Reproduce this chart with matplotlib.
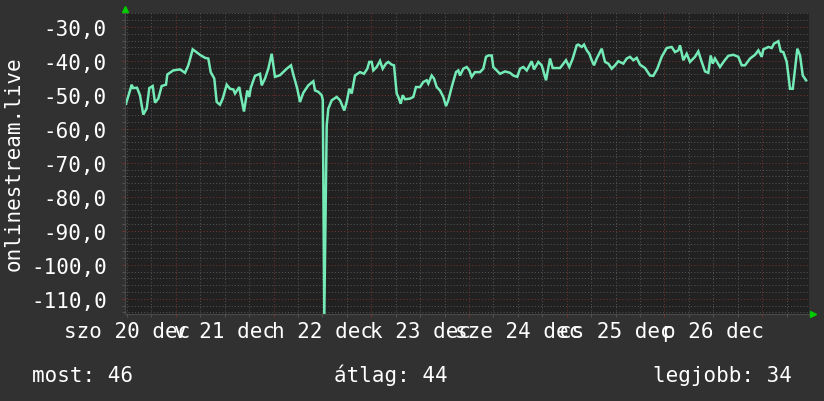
import matplotlib
matplotlib.use("Agg")
import matplotlib.pyplot as plt
from matplotlib.ticker import MultipleLocator, FuncFormatter, NullFormatter
import matplotlib.transforms as mtransforms

# hours relative to midnight of 20 Dec
hours = [-12.25, -10.85, -10.53, -9.55, -8.82, -8.01, -7.17, -6.53, -5.70, -5.13,
         -4.32, -3.49, -2.43, -2.11, -0.64, 1.01, 2.24, 3.05, 4.13, 5.92,
         7.15, 7.96, 8.55, 9.43, 10.02, 10.83, 11.50, 12.48, 13.29, 14.10,
         14.52, 15.57, 15.92, 16.73, 17.54, 18.03, 18.37, 19.43, 20.66, 21.08,
         21.89, 22.70, 23.53, 24.34, 25.57, 27.22, 28.27, 28.84, 29.82, 30.48,
         31.29, 32.52, 33.75, 34.17, 34.98, 35.81, 36.08, 36.45, 37.04, 37.43,
         38.27, 39.50, 40.31, 41.36, 41.95, 42.59, 43.18, 43.99, 45.22, 46.20,
         47.01, 47.50, 48.09, 48.49, 49.32, 50.13, 50.79, 51.60, 52.17, 53.00,
         53.57, 54.23, 54.62, 55.22, 55.71, 56.27, 57.50, 58.31, 58.97, 59.96,
         60.77, 61.60, 62.00, 62.83, 63.40, 64.06, 64.87, 65.68, 66.35, 66.91,
         67.74, 68.80, 69.37, 69.78, 70.59, 71.43, 72.07, 72.65, 73.46, 74.69,
         75.50, 76.17, 76.73, 77.57, 77.96, 78.80, 79.61, 80.84, 82.06, 82.87,
         83.85, 84.52, 85.33, 86.17, 87.39, 87.96, 89.02, 89.85, 90.91, 91.89,
         92.55, 94.35, 95.82, 96.63, 97.47, 98.45, 98.84, 99.68, 100.24, 100.91,
         101.54, 102.13, 102.70, 103.36, 104.59, 105.40, 106.21, 107.04, 107.86, 108.67,
         109.89, 110.73, 111.54, 112.35, 113.18, 113.99, 115.22, 116.45, 117.26, 118.24,
         119.32, 120.55, 121.78, 122.59, 123.40, 123.82, 124.63, 125.46, 126.27, 127.50,
         128.31, 129.15, 129.96, 130.77, 131.36, 131.85, 132.41, 133.64, 134.62, 135.68,
         136.91, 138.14, 138.97, 139.79, 141.02, 142.24, 143.06, 143.89, 144.29, 145.52,
         146.35, 146.91, 147.97, 148.56, 149.20, 150.03, 150.84, 151.51, 152.07, 152.64,
         153.30, 153.97, 154.78]

values = [-52.6, -47.0, -48.0, -47.9, -50.1, -55.8, -54.0, -48.0, -47.4, -52.3,
          -51.1, -47.4, -47.0, -44.0, -42.8, -42.5, -43.5, -41.3, -36.6, -38.2,
          -39.1, -39.3, -43.3, -45.2, -52.1, -52.9, -51.1, -47.0, -48.2, -48.4,
          -49.6, -47.7, -50.1, -54.9, -48.7, -50.6, -48.0, -44.4, -43.8, -47.2,
          -45.2, -42.3, -37.9, -44.7, -44.2, -42.3, -41.3, -44.0, -48.2, -52.1,
          -49.4, -47.2, -46.0, -48.7, -49.1, -50.1, -51.5, -114.5, -59.0, -54.1,
          -51.6, -50.6, -51.6, -54.6, -52.1, -48.2, -49.6, -44.3, -43.3, -43.8,
          -42.3, -40.3, -40.3, -42.8, -41.8, -40.0, -42.3, -40.8, -40.3, -41.1,
          -41.3, -49.6, -50.6, -52.6, -50.1, -51.3, -51.1, -50.6, -47.7, -47.7,
          -46.2, -45.7, -46.7, -44.3, -45.2, -47.7, -48.7, -50.6, -53.3, -51.6,
          -47.7, -43.3, -42.8, -44.3, -42.3, -41.8, -42.8, -44.7, -43.3, -43.3,
          -42.3, -38.8, -38.4, -38.4, -41.8, -42.8, -43.8, -43.1, -43.5, -44.3,
          -44.7, -42.3, -41.8, -42.8, -40.1, -42.5, -40.3, -41.3, -45.7, -39.3,
          -42.1, -42.1, -39.8, -41.8, -39.3, -35.4, -35.2, -35.9, -35.2, -36.9,
          -37.9, -39.8, -41.3, -39.3, -36.4, -40.3, -40.8, -42.3, -41.3, -40.1,
          -40.8, -39.3, -38.8, -39.8, -39.1, -41.1, -42.1, -44.3, -44.4, -42.3,
          -38.8, -36.2, -35.9, -37.4, -36.9, -35.4, -39.8, -37.9, -40.3, -38.8,
          -37.2, -40.3, -43.1, -43.5, -38.4, -40.8, -39.3, -41.8, -40.1, -38.5,
          -38.2, -38.8, -41.3, -41.3, -39.3, -38.2, -36.9, -38.8, -36.6, -35.9,
          -36.2, -34.9, -34.2, -37.2, -37.4, -40.3, -48.2, -48.2, -42.3, -36.4,
          -38.4, -44.3, -45.7]

day_labels = ["szo 20 dec", "v 21 dec", "h 22 dec", "k 23 dec",
              "sze 24 dec", "cs 25 dec", "p 26 dec"]
y_label = "onlinestream.live"
legend_items = ["most: 46", "átlag: 44", "legjobb: 34"]

plt.rcParams['font.family'] = ['DejaVu Sans Mono', 'DejaVu Sans']

W, H = 824, 402
fig = plt.figure(figsize=(W / 100, H / 100), dpi=100)
fig.patch.set_facecolor('#313131')

L, R, T, B = 125, 809, 14, 315
ax = fig.add_axes([L / W, 1 - B / H, (R - L) / W, (B - T) / H])
ax.set_facecolor('#212121')

xmin, xmax = -12.5, 155.5
ymin, ymax = -114.5, -25.9
ax.set_xlim(xmin, xmax)
ax.set_ylim(ymin, ymax)

minor_col = '#525252'
major_col = '#713030'
dots = (0, (1, 2))

ax.xaxis.set_major_locator(MultipleLocator(24))
ax.xaxis.set_minor_locator(MultipleLocator(6))
ax.yaxis.set_major_locator(MultipleLocator(10))
ax.yaxis.set_minor_locator(MultipleLocator(2))
ax.grid(which='minor', color=minor_col, linestyle=dots, linewidth=0.75)
ax.grid(which='major', color=major_col, linestyle=dots, linewidth=0.75)
ax.set_axisbelow(True)

ax.xaxis.set_major_formatter(NullFormatter())
ax.yaxis.set_major_formatter(FuncFormatter(lambda v, p: f"{v:.1f}".replace('.', ',')))
ax.tick_params(axis='x', which='major', length=2, color=major_col, width=0.8)
ax.tick_params(axis='x', which='minor', length=2, color=minor_col, width=0.8)
ax.tick_params(axis='y', which='major', length=2, color=major_col, width=0.8,
               labelcolor='white', labelsize=15, pad=11)
ax.tick_params(axis='y', which='minor', length=2, color=minor_col, width=0.8)

for s in ['top', 'right']:
    ax.spines[s].set_visible(False)
for s in ['left', 'bottom']:
    ax.spines[s].set_color('#4a4a4a')
    ax.spines[s].set_linewidth(0.8)

ax.plot(hours, values, color='#74eab6', linewidth=1.8, solid_joinstyle='miter')

# day labels under axis
trans = mtransforms.blended_transform_factory(ax.transData, fig.transFigure)
for i, lab in enumerate(day_labels):
    ax.text(-12 + 24 * i, 1 - 338 / H, lab, transform=trans, ha='center',
            va='baseline', color='white', fontsize=15, clip_on=False)

# arrows
ax.plot([0], [1.012], marker='^', color='#00cc00', markersize=4, transform=ax.transAxes, clip_on=False)
ax.plot([1.006], [0], marker='>', color='#00cc00', markersize=4, transform=ax.transAxes, clip_on=False)

fig.text(14 / W, 1 - 164 / H, y_label, rotation=90, ha='center', va='center',
         color='white', fontsize=15)

fig.text(32 / W, 1 - 382 / H, legend_items[0], ha='left', va='baseline', color='white', fontsize=15)
fig.text(334 / W, 1 - 382 / H, legend_items[1], ha='left', va='baseline', color='white', fontsize=15)
fig.text(792 / W, 1 - 382 / H, legend_items[2], ha='right', va='baseline', color='white', fontsize=15)

fig.savefig('out.png', dpi=100, facecolor=fig.get_facecolor())
